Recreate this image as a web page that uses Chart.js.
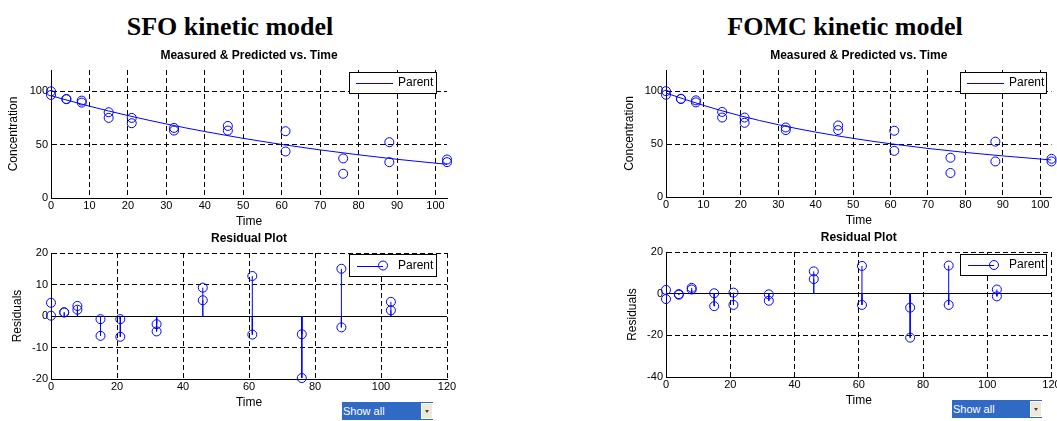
<!DOCTYPE html>
<html>
<head>
<meta charset="utf-8">
<title>SFO / FOMC kinetic model</title>
<script src="https://cdn.jsdelivr.net/npm/chart.js@4.4.1/dist/chart.umd.min.js"></script>
<style>
body{margin:0;background:#fff;}
#page{position:relative;width:1057px;height:421px;overflow:hidden;background:#fff;}
.main{position:absolute;top:12px;width:320px;text-align:center;font:bold 26px/29px "Liberation Serif","Times New Roman",serif;color:#000;}
.cv{position:absolute;}
.drop{position:absolute;height:18px;background:#316ac5;color:#fff;font:11px/18px "Liberation Sans",Arial,sans-serif;padding-left:1px;box-sizing:border-box;}
.drop .btn{position:absolute;right:0;top:1px;width:12px;height:16px;background:#ece9d8;border:1px solid #fff;box-sizing:border-box;}
.drop .btn:after{content:"";position:absolute;left:3px;top:6px;border-left:2px solid transparent;border-right:2px solid transparent;border-top:3px solid #444;}
</style>
</head>
<body>
<div id="page">
  <div class="main" style="left:70px;">SFO kinetic model</div>
  <div class="main" style="left:685px;">FOMC kinetic model</div>

  <canvas id="sfoFit" class="cv" width="460" height="192" style="left:0;top:40px;"></canvas>
  <canvas id="sfoRes" class="cv" width="460" height="180" style="left:0;top:232px;"></canvas>
  <canvas id="fomcFit" class="cv" width="442" height="192" style="left:615px;top:40px;"></canvas>
  <canvas id="fomcRes" class="cv" width="442" height="180" style="left:615px;top:232px;"></canvas>

  <div class="drop" style="left:342px;top:402px;width:91px;">Show all<div class="btn"></div></div>
  <div class="drop" style="left:952px;top:400px;width:90px;">Show all<div class="btn"></div></div>
</div>
<script>
// measured parent data (two replicates per sampling time)
var times    = [0, 0, 4, 4, 8, 8, 15, 15, 21, 21, 32, 32, 46, 46, 61, 61, 76, 76, 88, 88, 103, 103];
var measured = [100.0, 96.6, 92.8, 92.6, 91.3, 89.4, 80.4, 75.1, 75.1, 70.1, 65.7, 63.2,
                67.6, 63.2, 62.6, 43.6, 37.1, 22.7, 52.3, 33.6, 36.1, 33.6];

// predicted curves
var predTimes = [0, 10, 20, 30, 40, 50, 60, 70, 80, 90, 103];
var sfoPred   = [95.9, 86.1, 77.3, 69.4, 62.3, 55.9, 50.2, 45.1, 40.5, 36.3, 31.6];
var fomcPred  = [98.2, 86.6, 76.6, 68.3, 61.3, 55.4, 50.3, 45.9, 42.1, 38.8, 35.0];

// residuals (same order as times)
var sfoResid  = [4.2, 0.1, 1.2, 1.1, 3.2, 2.0, -1.0, -6.3, -1.0, -6.6, -2.6, -4.9,
                 9.0, 5.0, 12.7, -5.9, -5.8, -19.7, 15.0, -3.6, 4.5, 1.8];
var fomcResid = [1.8, -2.6, -0.2, -0.5, 2.8, 2.0, 0.2, -6.0, 0.5, -5.4, -0.3, -3.4,
                 10.7, 7.0, 13.3, -5.4, -6.7, -21.1, 13.5, -5.4, 2.0, -1.3];

// tick labels
var fitTimeTicks   = [0, 10, 20, 30, 40, 50, 60, 70, 80, 90, 100];
var concTicks      = [0, 50, 100];
var resTimeTicks   = [0, 20, 40, 60, 80, 100, 120];
var sfoResidTicks  = [-20, -10, 0, 10, 20];
var fomcResidTicks = [-40, -20, 0, 20];

var BLUE = 'rgb(0,0,255)';
var FONT = '"Liberation Sans", Arial, Helvetica, sans-serif';

function xy(xs, ys){
    var out = [];
    for(var i=0;i<xs.length;i++){
        out.push({x: xs[i], y: ys[i]});
    }
    return out;
}

function stems(xs, ys){
    var out = [];
    for(var i=0;i<xs.length;i++){
        out.push({x: xs[i], y: 0});
        out.push({x: xs[i], y: ys[i]});
        out.push({x: xs[i], y: null});
    }
    return out;
}

function linAxis(c){
    return {
        type: 'linear',
        position: c.position,
        min: c.min,
        max: c.max,
        afterBuildTicks: function(s){
            s.ticks = c.ticks.map(function(v){ return {value: v}; });
        },
        afterFit: function(s){
            if(c.position === 'bottom'){
                s.height = c.size; s.paddingLeft = 0; s.paddingRight = 0;
            } else {
                s.width = c.size; s.paddingTop = 0; s.paddingBottom = 0;
            }
        },
        grid: {color: '#000', lineWidth: 1, drawTicks: false, tickLength: 0},
        border: {
            display: true, color: '#000', width: 1,
            dash: function(ctx){
                return (c.solidZero && ctx.tick && ctx.tick.value === 0) ? [] : [5, 3];
            }
        },
        ticks: {color: '#000', font: {family: FONT, size: 11}, padding: c.tickPad, autoSkip: false, maxRotation: 0},
        title: {display: true, text: c.title, color: '#000', font: {family: FONT, size: 12},
                padding: {top: c.titlePad, bottom: c.titlePad}}
    };
}

// subplot title + MATLAB style legend box
var panelPlugin = {
    id: 'panel',
    afterDraw: function(chart, args, o){
        var ctx = chart.ctx, a = chart.chartArea;
        ctx.save();
        ctx.fillStyle = '#000';
        ctx.textAlign = 'center';
        ctx.textBaseline = 'middle';
        ctx.font = 'bold 12px ' + FONT;
        ctx.fillText(o.title, (a.left + a.right) / 2, a.top - 14);

        var b = o.box, cy = b[1] + b[3] / 2;
        ctx.fillStyle = '#fff';
        ctx.fillRect(b[0], b[1], b[2], b[3]);
        ctx.strokeStyle = '#000';
        ctx.lineWidth = 1;
        ctx.strokeRect(b[0] + 0.5, b[1] + 0.5, b[2] - 1, b[3] - 1);

        ctx.strokeStyle = BLUE;
        ctx.beginPath();
        if(o.marker){
            ctx.moveTo(b[0] + 8, Math.round(cy) + 0.5);
            ctx.lineTo(b[0] + 34, Math.round(cy) + 0.5);
            ctx.stroke();
            ctx.beginPath();
            ctx.arc(b[0] + 34, cy, 4.5, 0, Math.PI * 2);
            ctx.stroke();
        } else {
            ctx.moveTo(b[0] + 7, Math.round(cy) + 0.5);
            ctx.lineTo(b[0] + 44, Math.round(cy) + 0.5);
            ctx.stroke();
        }
        ctx.fillStyle = '#000';
        ctx.textAlign = 'left';
        ctx.font = '12px ' + FONT;
        ctx.fillText('Parent', b[0] + 49, cy);
        ctx.restore();
    }
};

function baseOptions(pad, scales, panel){
    return {
        responsive: false,
        animation: false,
        devicePixelRatio: 1,
        events: [],
        layout: {padding: pad},
        plugins: {legend: {display: false}, tooltip: {enabled: false}, panel: panel},
        scales: scales
    };
}

function makeFitChart(id, pred, cfg){
    return new Chart(document.getElementById(id), {
        type: 'scatter',
        data: {
            datasets: [
                {data: xy(times, measured), borderColor: BLUE, backgroundColor: 'rgba(0,0,0,0)',
                 pointRadius: 4.5, pointBorderWidth: 1, clip: false},
                {type: 'line', data: xy(predTimes, pred), borderColor: BLUE, borderWidth: 1,
                 pointRadius: 0, cubicInterpolationMode: 'monotone', fill: false}
            ]
        },
        options: baseOptions(cfg.pad, {
            x: linAxis({position: 'bottom', min: 0, max: 103, ticks: fitTimeTicks, size: cfg.xSize,
                        tickPad: 1, title: 'Time', titlePad: cfg.xTitlePad}),
            y: linAxis({position: 'left', min: 0, max: 120, ticks: concTicks, size: 51,
                        tickPad: 3, title: 'Concentration', titlePad: cfg.yTitlePad})
        }, {title: 'Measured & Predicted vs. Time', box: cfg.box, marker: false}),
        plugins: [panelPlugin]
    });
}

function makeResChart(id, resid, yMin, yMax, yTicks, cfg){
    return new Chart(document.getElementById(id), {
        type: 'scatter',
        data: {
            datasets: [
                {data: xy(times, resid), borderColor: BLUE, backgroundColor: 'rgba(0,0,0,0)',
                 pointRadius: 4.5, pointBorderWidth: 1, clip: false},
                {type: 'line', data: stems(times, resid), borderColor: BLUE, borderWidth: 1,
                 pointRadius: 0, spanGaps: false, fill: false}
            ]
        },
        options: baseOptions(cfg.pad, {
            x: linAxis({position: 'bottom', min: 0, max: 120, ticks: resTimeTicks, size: cfg.xSize,
                        tickPad: 1, title: 'Time', titlePad: cfg.xTitlePad}),
            y: linAxis({position: 'left', min: yMin, max: yMax, ticks: yTicks, size: 51, solidZero: true,
                        tickPad: 3, title: 'Residuals', titlePad: cfg.yTitlePad})
        }, {title: 'Residual Plot', box: cfg.box, marker: true}),
        plugins: [panelPlugin]
    });
}

makeFitChart('sfoFit', sfoPred, {pad: {top: 30, right: 13, left: 0, bottom: 0}, xSize: 34,
    xTitlePad: 2.8, yTitlePad: 6.8, box: [349, 32, 88, 22]});
makeResChart('sfoRes', sfoResid, -20, 20, sfoResidTicks, {pad: {top: 21, right: 13, left: 0, bottom: 0}, xSize: 33,
    xTitlePad: 1.8, yTitlePad: 10.4, box: [349, 22, 88, 23]});
makeFitChart('fomcFit', fomcPred, {pad: {top: 30, right: 2, left: 0, bottom: 0}, xSize: 35,
    xTitlePad: 3.8, yTitlePad: 7.8, box: [345, 32, 87, 22]});
makeResChart('fomcRes', fomcResid, -40, 20, fomcResidTicks, {pad: {top: 20, right: 3, left: 0, bottom: 0}, xSize: 35,
    xTitlePad: 3.8, yTitlePad: 10.4, box: [345, 22, 87, 22]});
</script>
</body>
</html>
